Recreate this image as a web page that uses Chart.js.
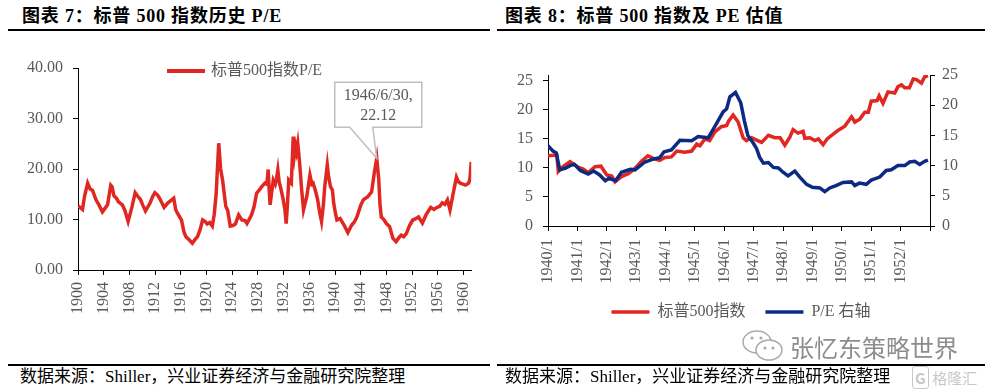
<!DOCTYPE html>
<html>
<head>
<meta charset="utf-8">
<script src="https://cdn.jsdelivr.net/npm/chart.js@4.4.1/dist/chart.umd.min.js"></script>
<style>
  body { margin: 0; width: 987px; height: 391px; background: #fff; position: relative; overflow: hidden;
         font-family: 'Liberation Serif', 'Noto Sans CJK SC', serif; }
  .abs { position: absolute; }
  .title { font-size: 18px; font-weight: bold; line-height: 22px; color: #000; white-space: nowrap; letter-spacing: 0.8px; }
  .rule { background: #000; height: 2px; }
  .src { font-size: 17px; line-height: 20px; color: #000; white-space: nowrap; }
  canvas { position: absolute; }
</style>
</head>
<body>
<div class="abs title" style="left:22px; top:5px">图表 7：标普 500 指数历史 P/E</div>
<div class="abs title" style="left:505px; top:5px">图表 8：标普 500 指数及 PE 估值</div>
<div class="abs rule" style="left:8px; top:29px; width:482px"></div>
<div class="abs rule" style="left:497px; top:29px; width:488px"></div>

<canvas id="c1" width="490" height="290" style="left:0; top:40px"></canvas>
<canvas id="c2" width="492" height="290" style="left:495px; top:40px"></canvas>

<svg class="abs" style="left:740px; top:328px" width="46" height="36" viewBox="0 0 46 36">
  <ellipse cx="17" cy="14" rx="14" ry="11" fill="none" stroke="#aaa" stroke-width="1.5"/>
  <ellipse cx="29" cy="22" rx="13" ry="10" fill="#fff" stroke="#aaa" stroke-width="1.5"/>
  <circle cx="12" cy="10" r="1.6" fill="#aaa"/><circle cx="21" cy="10" r="1.6" fill="#aaa"/>
  <circle cx="25" cy="20" r="1.6" fill="#aaa"/><circle cx="33" cy="20" r="1.6" fill="#aaa"/>
</svg>
<div class="abs" style="left:790px; top:333px; font-size:24px; line-height:28px; color:#8c8c8c; font-family:'Noto Sans CJK SC',sans-serif; white-space:nowrap">张忆东策略世界</div>

<div class="abs rule" style="left:8px; top:364px; width:482px"></div>
<div class="abs rule" style="left:497px; top:364px; width:488px"></div>
<div class="abs src" style="left:20px; top:367px">数据来源：Shiller，兴业证券经济与金融研究院整理</div>
<div class="abs src" style="left:505px; top:367px">数据来源：Shiller，兴业证券经济与金融研究院整理</div>
<div class="abs" style="left:912px; top:369px; font-size:15px; line-height:18px; color:#c8c8c8; font-family:'Noto Sans CJK SC',sans-serif; white-space:nowrap"><span style="border:1.5px solid #c8c8c8; border-radius:3px; padding:0 2px; font-weight:bold">G</span> 格隆汇</div>

<script>
// ---- 图表7 数据：标普500 P/E（年份为小数年）
var peYears = [1900.0, 1900.4, 1900.7, 1901.0, 1901.5, 1901.9, 1902.25, 1902.8, 1903.3, 1903.8,
  1904.2, 1904.6, 1905.1, 1905.3, 1905.6, 1906.0, 1906.3, 1906.9, 1907.3, 1907.8,
  1908.4, 1908.9, 1909.3, 1909.7, 1910.1, 1910.5, 1911.2, 1911.6, 1911.96, 1912.4,
  1912.7, 1913.4, 1914.0, 1914.5, 1914.9, 1915.2, 1915.5, 1916.1, 1916.5, 1916.8,
  1917.3, 1917.8, 1918.2, 1918.6, 1919.0, 1919.4, 1919.8, 1920.1, 1920.5, 1920.9,
  1921.2, 1921.5, 1921.9, 1922.2, 1922.5, 1923.0, 1923.3, 1923.7, 1924.1, 1924.5,
  1925.0, 1925.5, 1926.0, 1926.3, 1927.0, 1927.4, 1927.8, 1928.2, 1928.6, 1929.1,
  1929.4, 1929.6, 1929.75, 1929.9, 1930.1, 1930.4, 1930.7, 1930.9, 1931.1, 1931.3,
  1931.5, 1931.9, 1932.2, 1932.4, 1932.6, 1932.8, 1933.2, 1933.5, 1933.7, 1933.85,
  1934.0, 1934.2, 1934.5, 1934.8, 1935.1, 1935.6, 1936.1, 1936.4, 1936.6, 1937.0,
  1937.3, 1937.6, 1937.9, 1938.2, 1938.4, 1938.8, 1939.0, 1939.3, 1939.6, 1939.8,
  1940.1, 1940.3, 1940.8, 1941.4, 1942.0, 1942.6, 1943.0, 1943.4, 1944.0, 1944.4,
  1945.1, 1945.7, 1946.1, 1946.5, 1946.8, 1947.0, 1947.2, 1947.6, 1948.0, 1948.5,
  1949.0, 1949.5, 1950.0, 1950.3, 1950.7, 1951.1, 1951.6, 1952.1, 1952.5, 1953.0,
  1953.6, 1954.2, 1954.9, 1955.4, 1955.9, 1956.3, 1956.7, 1957.1, 1957.5, 1957.9,
  1958.4, 1958.9, 1959.2, 1959.5, 1959.9, 1960.3, 1960.8, 1961.0, 1961.2];
var peValues = [12.7, 12.3, 12.0, 14.5, 17.2, 16.0, 15.8, 13.9, 12.8, 11.5,
  12.2, 12.9, 16.8, 16.5, 14.7, 14.2, 13.5, 12.9, 11.8, 9.6,
  12.5, 15.3, 14.6, 14.0, 12.8, 11.7, 13.2, 14.5, 15.3, 14.8,
  14.2, 12.4, 13.3, 13.8, 14.2, 12.0, 11.2, 9.9, 7.5, 6.6,
  6.0, 5.3, 6.0, 6.6, 8.0, 9.9, 9.6, 9.1, 9.4, 8.7,
  11.0, 15.0, 25.1, 20.0, 17.8, 12.6, 11.8, 8.7, 8.8, 9.1,
  10.9, 9.9, 9.8, 9.2, 10.9, 12.5, 15.2, 15.8, 16.5, 17.2,
  17.0, 19.9, 16.0, 12.9, 15.0, 17.8, 17.0, 18.1, 19.8, 17.5,
  16.5, 14.2, 12.0, 9.2, 13.0, 17.8, 17.2, 26.4, 23.0, 24.5,
  23.5, 25.1, 21.1, 16.0, 11.9, 14.5, 18.8, 17.0, 17.2, 15.5,
  13.9, 11.5, 9.6, 13.0, 16.5, 20.8, 18.5, 16.5, 15.8, 13.2,
  11.0, 9.9, 10.2, 8.9, 7.4, 8.9, 9.5, 10.5, 12.8, 13.9,
  14.5, 15.5, 19.1, 22.12, 18.1, 13.0, 10.5, 10.0, 9.2, 8.6,
  6.3, 5.6, 6.5, 6.9, 6.6, 7.2, 8.8, 9.9, 10.1, 10.5,
  9.3, 11.0, 12.4, 12.0, 12.4, 12.6, 13.3, 13.0, 13.9, 11.9,
  15.2, 18.4, 17.5, 17.2, 17.0, 16.8, 17.2, 18.0, 21.4];
var peXTicks = [1900, 1904, 1908, 1912, 1916, 1920, 1924, 1928, 1932, 1936, 1940, 1944, 1948, 1952, 1956, 1960];
var peYTicks = [0, 10, 20, 30, 40];
var noteYear = 1946.5, noteValue = 22.12, noteText = ['1946/6/30,', '22.12'];

// ---- 图表8 数据：标普500指数（左轴）与 P/E（右轴）
var spxYears = [1940.0, 1940.2, 1940.3, 1940.35, 1940.5, 1940.75, 1941.0, 1941.2, 1941.37, 1941.6,
  1941.8, 1942.0, 1942.17, 1942.28, 1942.5, 1942.73, 1942.96, 1943.19, 1943.4, 1943.6,
  1943.8, 1943.98, 1944.2, 1944.38, 1944.66, 1944.89, 1945.06, 1945.17, 1945.34, 1945.5,
  1945.68, 1945.9, 1946.08, 1946.14, 1946.3, 1946.47, 1946.64, 1946.75, 1946.93, 1947.1,
  1947.27, 1947.5, 1947.72, 1947.9, 1948.06, 1948.23, 1948.34, 1948.51, 1948.68, 1948.74,
  1948.91, 1949.08, 1949.2, 1949.36, 1949.5, 1949.65, 1949.88, 1950.1, 1950.33, 1950.44,
  1950.61, 1950.78, 1950.9, 1951.0, 1951.2, 1951.27, 1951.4, 1951.57, 1951.8, 1951.91,
  1952.03, 1952.14, 1952.3, 1952.43, 1952.54, 1952.71, 1952.82, 1952.93];
var spxValues = [12.1, 12.2, 12.2, 9.4, 10.2, 11.1, 10.2, 9.8, 9.2, 10.2,
  10.3, 8.8, 8.6, 7.6, 8.5, 9.0, 9.9, 11.2, 12.1, 11.6,
  11.3, 11.8, 11.9, 12.9, 12.7, 12.9, 14.1, 13.8, 15.0, 14.7,
  16.2, 17.1, 17.3, 18.0, 19.1, 17.9, 15.2, 14.7, 15.2, 14.8,
  14.4, 15.6, 15.2, 15.2, 13.9, 15.3, 16.6, 16.0, 16.3, 15.1,
  15.2, 14.7, 15.0, 14.0, 15.0, 15.6, 16.5, 17.2, 18.8, 17.9,
  18.4, 19.6, 19.6, 21.5, 21.6, 22.4, 21.1, 23.1, 22.9, 24.0,
  24.3, 23.8, 23.8, 25.3, 25.2, 24.6, 25.7, 25.9];
var pe2Years = [1940.0, 1940.17, 1940.28, 1940.4, 1940.6, 1940.75, 1940.9, 1941.1, 1941.37, 1941.55,
  1941.75, 1941.95, 1942.07, 1942.3, 1942.5, 1942.8, 1942.96, 1943.3, 1943.6, 1943.8,
  1943.95, 1944.2, 1944.49, 1944.89, 1945.11, 1945.45, 1945.68, 1945.96, 1946.08, 1946.19,
  1946.38, 1946.56, 1946.68, 1946.8, 1946.99, 1947.1, 1947.2, 1947.33, 1947.5, 1947.67,
  1947.84, 1948.0, 1948.17, 1948.4, 1948.57, 1948.8, 1949.0, 1949.25, 1949.42, 1949.59,
  1949.8, 1950.04, 1950.33, 1950.44, 1950.6, 1950.83, 1951.0, 1951.29, 1951.51, 1951.68,
  1951.91, 1952.14, 1952.31, 1952.48, 1952.65, 1952.82, 1952.93];
var pe2Values = [13.3, 12.4, 12.1, 9.3, 9.6, 10.0, 10.2, 9.2, 8.6, 9.1,
  8.5, 7.5, 7.9, 7.5, 8.9, 9.4, 9.3, 10.6, 11.1, 11.3,
  12.3, 12.6, 14.2, 14.1, 14.8, 14.6, 16.5, 18.9, 19.4, 21.4,
  22.1, 20.4, 17.5, 15.0, 13.7, 12.8, 11.4, 10.4, 10.5, 9.7,
  9.6, 8.9, 8.3, 9.1, 8.1, 6.9, 6.4, 6.3, 5.7, 6.3,
  6.7, 7.2, 7.3, 6.7, 7.1, 6.9, 7.6, 8.1, 9.2, 9.3,
  10.0, 10.0, 10.6, 10.7, 10.2, 10.7, 10.9];
var yearTicks2 = [1940, 1941, 1942, 1943, 1944, 1945, 1946, 1947, 1948, 1949, 1950, 1951, 1952, 1953];
var leftTicks2 = [0, 5, 10, 15, 20, 25];

var RED = '#e02722';
var NAVY = '#0c2a82';
var GREY = '#595959';
var FONT = "'Liberation Serif', 'Noto Sans CJK SC', serif";

Chart.defaults.font.family = FONT;
Chart.defaults.font.size = 16;
Chart.defaults.color = GREY;

function pts(xs, ys) {
  return xs.map(function (x, i) { return { x: x, y: ys[i] }; });
}
function fixTicks(list) {
  return function (axis) { axis.ticks = list.map(function (v) { return { value: v }; }); };
}
var axisGrid = { drawOnChartArea: false, color: '#000', tickLength: 5, lineWidth: 1 };
var axisBorder = { color: '#000', width: 1 };

// 图表7 的图例与标注
var notePlugin = {
  id: 'note',
  afterDraw: function (chart) {
    var ctx = chart.ctx;
    var top = chart.chartArea.top;
    ctx.save();
    ctx.strokeStyle = RED;
    ctx.lineWidth = 4;
    ctx.beginPath();
    ctx.moveTo(167, top + 3);
    ctx.lineTo(205, top + 3);
    ctx.stroke();
    ctx.font = '16px ' + FONT;
    ctx.fillStyle = GREY;
    ctx.textAlign = 'left';
    ctx.textBaseline = 'middle';
    ctx.fillText(chart.data.datasets[0].label, 211, top + 3);

    var px = chart.scales.x.getPixelForValue(noteYear);
    var py = chart.scales.y.getPixelForValue(noteValue);
    var L = px - 42, R = px + 45, T = py - 76, B = py - 31;
    ctx.beginPath();
    ctx.moveTo(L, T);
    ctx.lineTo(R, T);
    ctx.lineTo(R, B);
    ctx.lineTo(px - 4, B);
    ctx.lineTo(px, py);
    ctx.lineTo(px - 27, B);
    ctx.lineTo(L, B);
    ctx.closePath();
    ctx.fillStyle = '#fff';
    ctx.fill();
    ctx.strokeStyle = '#bfbfbf';
    ctx.lineWidth = 1.5;
    ctx.stroke();
    ctx.fillStyle = GREY;
    ctx.textAlign = 'center';
    ctx.fillText(noteText[0], (L + R) / 2, T + 14);
    ctx.fillText(noteText[1], (L + R) / 2, T + 34);
    ctx.restore();
  }
};

new Chart(document.getElementById('c1'), {
  type: 'line',
  data: {
    datasets: [{
      label: '标普500指数P/E',
      data: pts(peYears, peValues),
      borderColor: RED,
      borderWidth: 3.5,
      pointRadius: 0,
      tension: 0
    }]
  },
  options: {
    responsive: false,
    animation: false,
    layout: { padding: { top: 28, right: 15, left: 0, bottom: 0 } },
    plugins: { legend: { display: false }, tooltip: { enabled: false } },
    scales: {
      x: {
        type: 'linear', min: 1900, max: 1961.2,
        afterBuildTicks: fixTicks(peXTicks),
        afterFit: function (s) { s.height = 60; },
        ticks: { autoSkip: false, minRotation: 90, maxRotation: 90, padding: 7,
                 callback: function (v) { return String(v); } },
        grid: axisGrid, border: axisBorder
      },
      y: {
        min: 0, max: 40,
        afterBuildTicks: fixTicks(peYTicks),
        afterFit: function (s) { s.width = 78; },
        ticks: { padding: 10, callback: function (v) { return v.toFixed(2); } },
        grid: axisGrid, border: axisBorder
      }
    }
  },
  plugins: [notePlugin]
});

new Chart(document.getElementById('c2'), {
  type: 'line',
  data: {
    datasets: [{
      label: '标普500指数',
      data: pts(spxYears, spxValues),
      borderColor: RED,
      backgroundColor: RED,
      borderWidth: 3.5,
      pointRadius: 0,
      yAxisID: 'y',
      order: 1
    }, {
      label: 'P/E 右轴',
      data: pts(pe2Years, pe2Values),
      borderColor: NAVY,
      backgroundColor: NAVY,
      borderWidth: 3.5,
      pointRadius: 0,
      yAxisID: 'y1',
      order: 0
    }]
  },
  options: {
    responsive: false,
    animation: false,
    layout: { padding: { top: 35, right: 0, left: 0, bottom: 0 } },
    plugins: {
      tooltip: { enabled: false },
      legend: {
        position: 'bottom',
        labels: {
          usePointStyle: true, pointStyle: 'line', pointStyleWidth: 38,
          padding: 20, color: GREY, font: { size: 16 },
          sort: function (a, b) { return a.datasetIndex - b.datasetIndex; }
        }
      }
    },
    scales: {
      x: {
        type: 'linear', min: 1940, max: 1953,
        afterBuildTicks: fixTicks(yearTicks2),
        afterFit: function (s) { s.height = 58; },
        ticks: { autoSkip: false, minRotation: 90, maxRotation: 90, padding: 8,
                 callback: function (v) { return v < 1953 ? v + '/1' : ''; } },
        grid: axisGrid, border: axisBorder
      },
      y: {
        position: 'left', min: 0, max: 26,
        afterBuildTicks: fixTicks(leftTicks2),
        afterFit: function (s) { s.width = 53; },
        ticks: { padding: 10 },
        grid: axisGrid, border: axisBorder
      },
      y1: {
        position: 'right', min: 0, max: 25,
        afterBuildTicks: fixTicks(leftTicks2),
        afterFit: function (s) { s.width = 57; },
        ticks: { padding: 7 },
        grid: axisGrid, border: axisBorder
      }
    }
  }
});
</script>
</body>
</html>
